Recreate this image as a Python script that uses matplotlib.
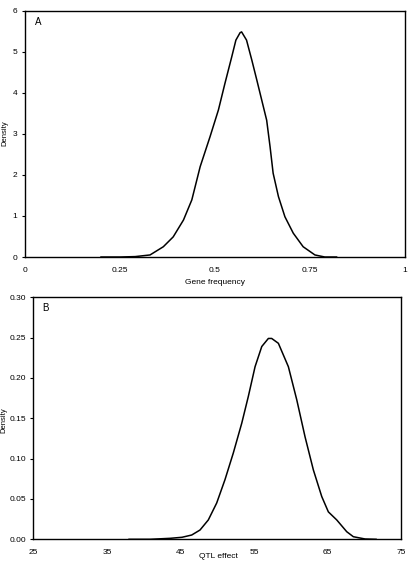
import matplotlib
matplotlib.use("Agg")
import matplotlib.pyplot as plt
from matplotlib.ticker import FormatStrFormatter

plt.rcParams['font.family'] = ['Liberation Sans', 'DejaVu Sans']

# panel A: density of gene frequency
gene_freq = [0.20, 0.25, 0.29, 0.329, 0.364, 0.390, 0.417, 0.439, 0.461, 0.487,
             0.509, 0.526, 0.544, 0.555, 0.566, 0.570, 0.583, 0.597, 0.610,
             0.623, 0.636, 0.645, 0.653, 0.667, 0.684, 0.706, 0.732, 0.763,
             0.789, 0.82]
gene_density = [0.0, 0.0, 0.01, 0.05, 0.25, 0.49, 0.90, 1.39, 2.20, 2.93,
                3.58, 4.22, 4.87, 5.28, 5.46, 5.48, 5.28, 4.79, 4.31,
                3.82, 3.33, 2.68, 2.04, 1.47, 0.98, 0.58, 0.25, 0.05,
                0.0, 0.0]

# panel B: density of QTL effect
qtl_effect = [38.0, 40.85, 43.57, 45.2, 46.52, 47.65, 48.78, 49.92, 51.05, 52.18,
              53.33, 54.22, 55.14, 56.05, 56.95, 57.4, 58.31, 59.67, 60.81,
              61.94, 63.07, 64.21, 65.11, 66.25, 67.61, 68.51, 70.1, 71.6]
qtl_density = [0.0, 0.0, 0.0012, 0.0025, 0.0053, 0.0115, 0.024, 0.045, 0.074, 0.107,
               0.144, 0.177, 0.214, 0.239, 0.249, 0.249, 0.243, 0.214, 0.173,
               0.127, 0.086, 0.053, 0.034, 0.024, 0.0094, 0.0032, 0.0004, 0.0]

a_xticks = [0, 0.25, 0.5, 0.75, 1]
a_xticklabels = ['0', '0.25', '0.5', '0.75', '1']
b_xticks = [25, 35, 45, 55, 65, 75]

fs = 6
W, H = 408, 563
fig = plt.figure(figsize=(4.08, 5.63), dpi=100)
axa = fig.add_axes([0.0613, 0.5435, 0.9313, 0.4378])
axb = fig.add_axes([0.0821, 0.0421, 0.9009, 0.4298])

axa.plot(gene_freq, gene_density, color='black', linewidth=1.1, solid_joinstyle='round')
axa.set_xlim(0, 1)
axa.set_ylim(0, 6)
axa.set_xticks(a_xticks)
axa.set_xticklabels(a_xticklabels)
axa.set_yticks(range(0, 7))
axa.text(0.025, 0.975, 'A', transform=axa.transAxes, fontsize=7, va='top', ha='left')

axb.plot(qtl_effect, qtl_density, color='black', linewidth=1.1, solid_joinstyle='round')
axb.set_xlim(25, 75)
axb.set_ylim(0, 0.30)
axb.set_xticks(b_xticks)
axb.set_yticks([0, 0.05, 0.10, 0.15, 0.20, 0.25, 0.30])
axb.yaxis.set_major_formatter(FormatStrFormatter('%.2f'))
axb.text(0.025, 0.975, 'B', transform=axb.transAxes, fontsize=7, va='top', ha='left')

# axis titles placed in figure pixels so nothing is clipped
fig.text(5 / W, 1 - 133 / H, 'Density', rotation=90, fontsize=5.5, ha='center', va='center')
fig.text(4 / W, 1 - 420 / H, 'Density', rotation=90, fontsize=5.5, ha='center', va='center')
fig.text(215 / W, 1 - 282 / H, 'Gene frequency', fontsize=fs, ha='center', va='center')
fig.text(218 / W, 1 - 557 / H, 'QTL effect', fontsize=fs, ha='center', va='center')

for ax in (axa, axb):
    ax.tick_params(axis='both', labelsize=fs, length=2.5, width=0.8, direction='out', pad=3)
    ax.tick_params(axis='x', length=0, pad=7)
    for sp in ax.spines.values():
        sp.set_linewidth(1.0)
        sp.set_color('black')

fig.savefig('out.png', dpi=100)
